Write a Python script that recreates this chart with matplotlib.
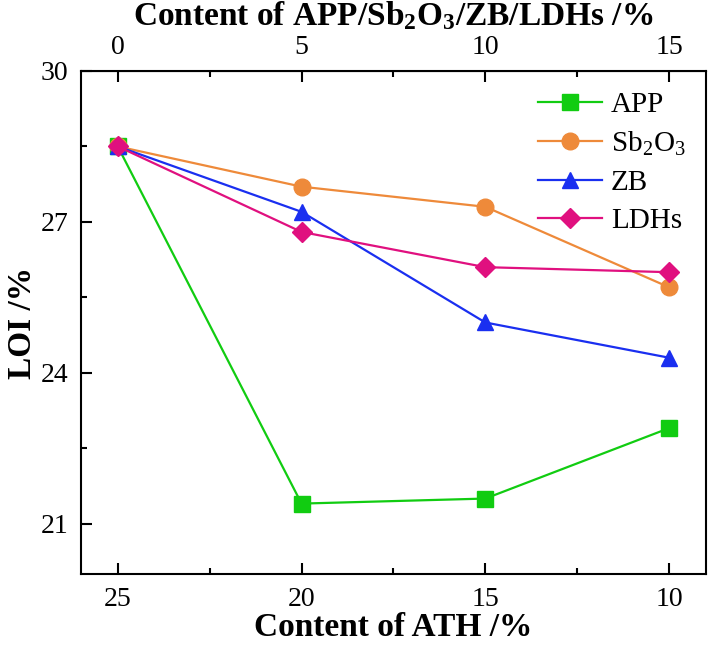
import matplotlib
matplotlib.use('Agg')
import matplotlib.pyplot as plt
from matplotlib.ticker import MultipleLocator, FixedLocator

plt.rcParams['font.family'] = ['Liberation Serif', 'DejaVu Serif']
plt.rcParams['mathtext.fontset'] = 'custom'
plt.rcParams['mathtext.rm'] = 'Liberation Serif'
plt.rcParams['mathtext.bf'] = 'Liberation Serif:bold'

# data
ath = [25, 20, 15, 10]
loi_app = [28.5, 21.4, 21.5, 22.9]
loi_sb2o3 = [28.5, 27.7, 27.3, 25.7]
loi_zb = [28.5, 27.2, 25.0, 24.3]
loi_ldhs = [28.5, 26.8, 26.1, 26.0]
top_ticks = [0, 5, 10, 15]

fig = plt.figure(figsize=(7.08, 6.47), dpi=100)
ax = fig.add_axes([0.1144, 0.1128, 0.8826, 0.7775])

ax.plot(ath, loi_app, '-s', color='#11cc11', lw=1.6, ms=11, label='APP')
ax.plot(ath, loi_sb2o3, '-o', color='#ee8a3a', lw=1.6, ms=12, label='Sb$_2$O$_3$')
ax.plot(ath, loi_zb, '-^', color='#1a2ff0', lw=1.6, ms=12, label='ZB')
ax.plot(ath, loi_ldhs, '-D', color='#e0107f', lw=1.6, ms=10, label='LDHs')

ax.set_xlim(26, 9)
ax.set_ylim(20, 30)
ax.xaxis.set_major_locator(MultipleLocator(5))
ax.xaxis.set_minor_locator(MultipleLocator(2.5))
ax.yaxis.set_major_locator(MultipleLocator(3))
ax.yaxis.set_minor_locator(MultipleLocator(1.5))
ax.tick_params(which='major', direction='in', length=8, width=1.5, labelsize=20, pad=9)
ax.tick_params(which='minor', direction='in', length=4, width=1.5)
for s in ax.spines.values():
    s.set_linewidth(1.5)

ax.set_xlabel('Content of ATH /%', fontsize=24, fontweight='bold', labelpad=0)
ax.set_ylabel('LOI /%', fontsize=24, fontweight='bold', labelpad=2)

top = ax.secondary_xaxis('top', functions=(lambda x: 25 - x, lambda x: 25 - x))
top.xaxis.set_major_locator(FixedLocator(top_ticks))
top.xaxis.set_minor_locator(FixedLocator([2.5, 7.5, 12.5]))
top.tick_params(which='major', direction='in', length=8, width=1.5, labelsize=20, pad=8)
top.tick_params(which='minor', direction='in', length=4, width=1.5)
top.set_xlabel(r'Content of APP/Sb$\mathbf{_2}$O$\mathbf{_3}$/ZB/LDHs /%', fontsize=24,
               fontweight='bold', labelpad=7)

ax.legend(loc='upper right', frameon=False, fontsize=21, handlelength=2.2,
          labelspacing=0.4, borderaxespad=0.3, handletextpad=0.3)

fig.savefig('out.png', dpi=100)
